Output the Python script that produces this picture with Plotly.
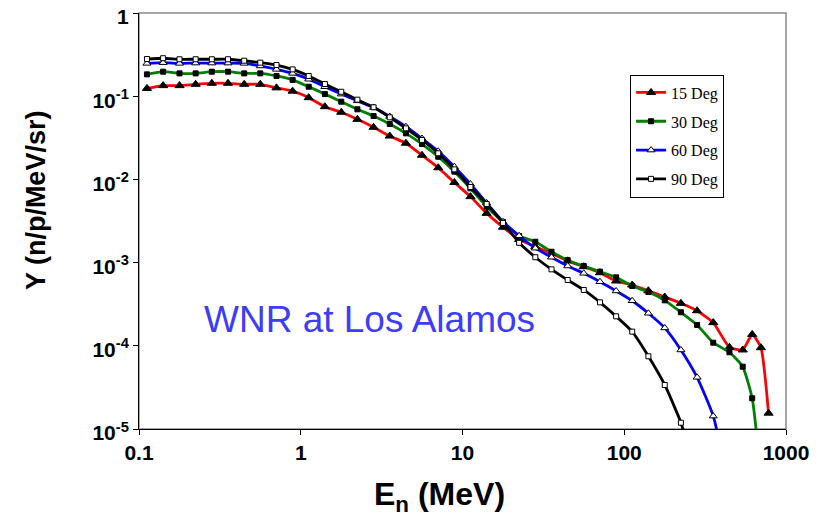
import plotly.graph_objects as go

# Neutron energy grid (MeV)
energy = [0.112, 0.141, 0.178, 0.224, 0.282, 0.355, 0.447, 0.562, 0.708, 0.891,
          1.12, 1.41, 1.78, 2.24, 2.82, 3.55, 4.47, 5.62, 7.08, 8.91,
          11.2, 14.1, 17.8, 22.4, 28.2, 35.5, 44.7, 56.2, 70.8, 89.1,
          112, 141, 178, 224, 282, 355, 447]
energy_tail = [540, 618, 700, 780]

y15 = [0.124, 0.134, 0.134, 0.139, 0.143, 0.143, 0.139, 0.139, 0.126, 0.115,
       0.096, 0.0748, 0.0641, 0.0527, 0.0423, 0.0332, 0.0272, 0.0195, 0.0138, 0.00918,
       0.00621, 0.00391, 0.00266, 0.00190, 0.00155, 0.00129, 0.00105, 0.000893, 0.000756, 0.000601,
       0.000538, 0.000459, 0.000386, 0.000324, 0.000264, 0.000190, 0.0000960,
       0.0000891, 0.000137, 0.0000949, 0.0000155]
y30 = [0.183, 0.197, 0.188, 0.188, 0.197, 0.197, 0.188, 0.188, 0.175, 0.157,
       0.130, 0.106, 0.0859, 0.0696, 0.0578, 0.0463, 0.0358, 0.0266, 0.0187, 0.0124,
       0.00781, 0.0047, 0.00308, 0.00209, 0.00178, 0.00135, 0.00107, 0.000910, 0.000778, 0.000665,
       0.000523, 0.000443, 0.000352, 0.000253, 0.000178, 0.000109, 0.0000836,
       0.0000561, 0.0000234, 0.0000026]
y60 = [0.248, 0.253, 0.248, 0.250, 0.250, 0.250, 0.248, 0.231, 0.210, 0.188,
       0.160, 0.130, 0.106, 0.088, 0.073, 0.057, 0.043, 0.031, 0.0218, 0.0142,
       0.0088, 0.0052, 0.0031, 0.0021, 0.00149, 0.00116, 0.000910, 0.000744, 0.000589, 0.000456,
       0.000348, 0.000246, 0.000164, 0.0000891, 0.0000418, 0.0000143, 0.0000019]
y90 = [0.280, 0.286, 0.278, 0.278, 0.278, 0.278, 0.267, 0.253, 0.237, 0.210,
       0.175, 0.140, 0.113, 0.0908, 0.0736, 0.0557, 0.0411, 0.0298, 0.0206, 0.0132,
       0.0081, 0.00506, 0.0030, 0.00173, 0.00116, 0.000830, 0.000618, 0.000469, 0.000333, 0.000226,
       0.000148, 0.0000748, 0.0000338, 0.0000119, 0.0000024]

names = ["15 Deg", "30 Deg", "60 Deg", "90 Deg"]
x_tick_vals = [0.1, 1, 10, 100, 1000]
x_tick_text = ["0.1", "1", "10", "100", "1000"]
y_tick_vals = [1, 0.1, 0.01, 0.001, 0.0001, 0.00001]
y_tick_text = ["1", "10<sup>-1</sup>", "10<sup>-2</sup>", "10<sup>-3</sup>",
               "10<sup>-4</sup>", "10<sup>-5</sup>"]
x_title = "E<sub>n</sub> (MeV)"
y_title = "Y (n/p/MeV/sr)"
note = "WNR at Los Alamos"

series = [
    (names[0], energy + energy_tail, y15, "#FF0000",
     dict(symbol="triangle-up", size=8, color="black", line=dict(color="black", width=1))),
    (names[1], energy + energy_tail[:3], y30, "#008000",
     dict(symbol="square", size=5, color="black", line=dict(color="black", width=1))),
    (names[2], energy, y60, "#0000FF",
     dict(symbol="triangle-up", size=7, color="white", line=dict(color="black", width=1))),
    (names[3], energy[:len(y90)], y90, "#000000",
     dict(symbol="square", size=5, color="white", line=dict(color="black", width=1))),
]

fig = go.Figure()
for i, (nm, xs, ys, col, mk) in enumerate(series):
    fig.add_trace(go.Scatter(
        x=xs, y=ys, name=nm, mode="lines+markers",
        line=dict(color=col, width=2.8, shape="spline", smoothing=0.5),
        marker=mk, legendgroup=nm,
    ))

fig.add_annotation(text=note, xref="paper", yref="paper",
                   x=0.3555, y=0.2644, xanchor="center", yanchor="middle",
                   showarrow=False,
                   font=dict(family="Liberation Sans, Arial", size=37, color="#3C3CFA"))

bold_title = dict(family="Liberation Sans, Arial", color="black", weight="bold")
fig.add_annotation(text=x_title, xref="paper", yref="paper",
                   x=0.465, y=-0.163, xanchor="center", yanchor="middle",
                   showarrow=False, font=dict(size=32, **bold_title))
fig.add_annotation(text=y_title, xref="paper", yref="paper", textangle=-90,
                   x=-0.159, y=0.5505, xanchor="center", yanchor="middle",
                   showarrow=False, font=dict(size=27, **bold_title))

# gray frame (top/right)
fig.add_shape(type="rect", xref="paper", yref="paper", x0=0, y0=0, x1=1, y1=1,
              line=dict(color="#888888", width=1.5), layer="below")

axis_font = dict(family="Liberation Sans, Arial", size=21, color="black", weight="bold")

# page body has an 8px default margin: size the figure so the plot area lands in place
fig.update_layout(
    width=813, height=514,
    margin=dict(l=131, r=35, t=5, b=93, autoexpand=False),
    paper_bgcolor="white", plot_bgcolor="white",
    showlegend=True,
    legend=dict(x=0.759, y=0.852, xanchor="left", yanchor="top",
                bgcolor="white", bordercolor="black", borderwidth=1,
                font=dict(family="Liberation Serif, Times New Roman", size=16, color="black"),
                itemwidth=30, tracegroupgap=5, traceorder="grouped"),
    xaxis=dict(type="log", range=[-1, 3], tickvals=x_tick_vals, ticktext=x_tick_text,
               automargin=False, ticklabeloverflow="allow",
               showgrid=False, zeroline=False, showline=True, linecolor="black", linewidth=1,
               ticks="outside", ticklen=5, tickcolor="black", tickfont=axis_font),
    yaxis=dict(type="log", range=[-5, 0], tickvals=y_tick_vals, ticktext=y_tick_text,
               automargin=False, ticklabeloverflow="allow", ticklabelshift=4,
               showgrid=False, zeroline=False, showline=True, linecolor="black", linewidth=1,
               ticks="outside", ticklen=5, tickcolor="black", tickfont=axis_font),
)

fig.write_html("out.html")
